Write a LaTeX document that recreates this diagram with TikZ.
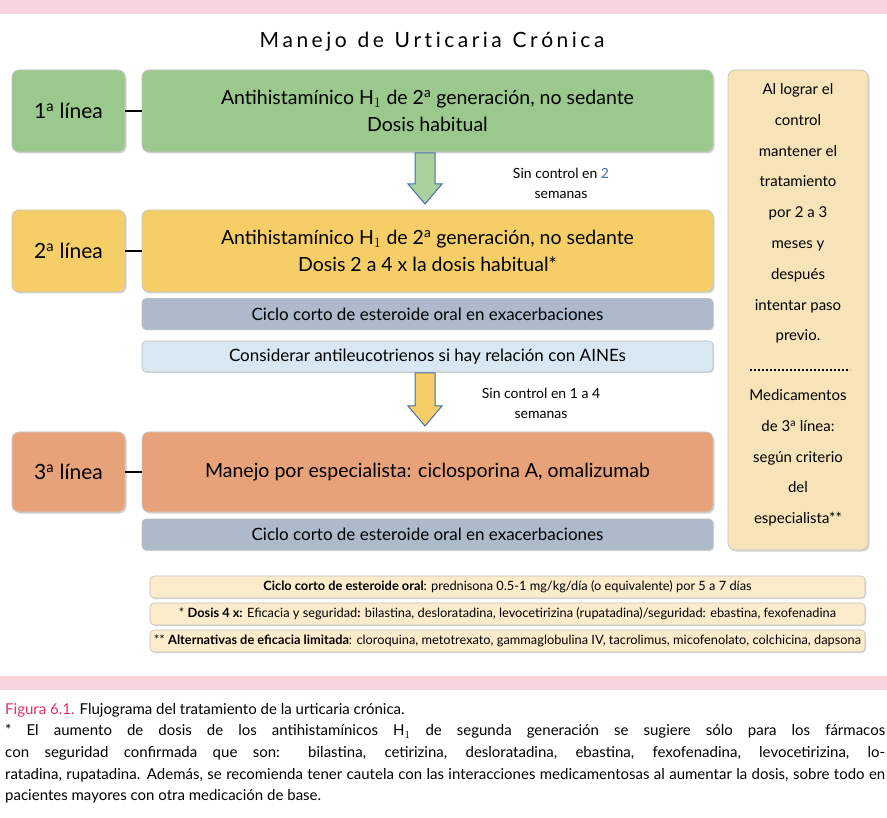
\documentclass[tikz,border=0pt]{standalone}
\usepackage{fontspec}
\setmainfont{Lato}
\usetikzlibrary{shadows}
\definecolor{pinkb}{RGB}{248,212,220}
\definecolor{gr}{RGB}{155,200,140}
\definecolor{ye}{RGB}{246,206,104}
\definecolor{orr}{RGB}{232,162,122}
\definecolor{gb}{RGB}{172,186,204}
\definecolor{lb}{RGB}{216,232,242}
\definecolor{tan}{RGB}{246,228,184}
\definecolor{fn}{RGB}{253,236,204}
\definecolor{capc}{RGB}{222,50,100}
\definecolor{blueo}{RGB}{70,110,170}
\tikzset{
 bx/.style={draw=gray!45,line width=0.8pt,rounded corners=7pt,inner sep=0pt,align=center,
   drop shadow={shadow xshift=1.5pt,shadow yshift=-1.5pt,opacity=0.35}},
 bar/.style={draw=gray!50,line width=0.6pt,rounded corners=4pt,inner sep=0pt,align=center,
   drop shadow={shadow xshift=1pt,shadow yshift=-1pt,opacity=0.3}},
 lab/.style={bx,minimum width=113pt,font=\fontsize{21}{24}\selectfont},
 main/.style={bx,minimum width=571pt,font=\fontsize{19.5}{27}\selectfont},
 barf/.style={bar,minimum width=571pt,minimum height=31pt,font=\fontsize{17}{20}\selectfont},
 side/.style={align=center,anchor=north,font=\fontsize{15}{30.8}\selectfont},
 note/.style={align=center,font=\fontsize{14}{20}\selectfont},
 arr/.style={draw=blueo,line width=1pt,line join=miter},
}
\newcommand{\sa}{\textsuperscript{a}}
\newcommand{\dnarrow}[3]{% fill, ytop, ybottom
 \draw[arr,fill=#1] (415,#2) -- (435,#2) -- (435,#3-20) -- (442,#3-20) -- (425,#3) -- (408,#3-20) -- (415,#3-20) -- cycle;}
\begin{document}
\begin{tikzpicture}[x=1pt,y=-1pt]
\useasboundingbox (0,0) rectangle (887,818);
\fill[pinkb] (0,0) rectangle (887,14);
\fill[pinkb] (0,676) rectangle (887,690);
\node (title) at (432,42) {\fontsize{21}{24}\selectfont M\,a\,n\,e\,j\,o\ \ d\,e\ \ U\,r\,t\,i\,c\,a\,r\,i\,a\ \ C\,r\,ó\,n\,i\,c\,a};
% line 1
\node[lab,fill=gr,minimum height=82pt] (l1) at (68.5,111) {1\sa{} línea};
\node[main,fill=gr,minimum height=82pt] (m1) at (427.5,111) {Antihistamínico H$_1$ de 2\sa{} generación, no sedante\\Dosis habitual};
\draw[line width=2pt] (l1) -- (m1);
\dnarrow{gr!85!white}{153}{204}
\node[note] (t1) at (561,183) {Sin control en \textcolor{blueo}{2}\\semanas};
% line 2
\node[lab,fill=ye,minimum height=82pt] (l2) at (68.5,251) {2\sa{} línea};
\node[main,fill=ye,minimum height=82pt] (m2) at (427.5,251) {Antihistamínico H$_1$ de 2\sa{} generación, no sedante\\Dosis 2 a 4 x la dosis habitual*};
\draw[line width=2pt] (l2) -- (m2);
\node[barf,fill=gb] (b1) at (427.5,314) {Ciclo corto de esteroide oral en exacerbaciones};
\node[barf,fill=lb] (b2) at (427.5,356.5) {Considerar antileucotrienos si hay relación con AINEs};
\dnarrow{ye}{373}{426}
\node[note] (t2) at (541,403) {Sin control en 1 a 4\\semanas};
% line 3
\node[lab,fill=orr,minimum height=80pt] (l3) at (68.5,472) {3\sa{} línea};
\node[main,fill=orr,minimum height=80pt] (m3) at (427.5,472) {Manejo por especialista: ciclosporina A, omalizumab};
\draw[line width=2pt] (l3) -- (m3);
\node[barf,fill=gb] (b3) at (427.5,534.5) {Ciclo corto de esteroide oral en exacerbaciones};
% right
\node[bx,fill=tan,minimum width=140pt,minimum height=480pt] (r) at (798,310) {};
\node[side] (rt1) at (798,80) {Al lograr el\\control\\mantener el\\tratamiento\\por 2 a 3\\meses y\\después\\intentar paso\\previo.};
\draw[line width=2pt,dotted] (750,370) -- (850,370);
\node[side] (rt2) at (798,386) {Medicamentos\\de 3\sa{} línea:\\según criterio\\del\\especialista**};
% footnotes
\tikzset{fnb/.style={bar,fill=fn,minimum width=715pt,minimum height=22pt,font=\fontsize{12.8}{14}\selectfont}}
\node[fnb] (f1) at (507.5,587) {\textbf{Ciclo corto de esteroide oral}: prednisona 0.5-1 mg/kg/día (o equivalente) por 5 a 7 días};
\node[fnb] (f2) at (507.5,614) {* \textbf{Dosis 4 x:} Eficacia y seguridad\textbf{:} bilastina, desloratadina, levocetirizina (rupatadina)/seguridad: ebastina, fexofenadina};
\node[fnb] (f3) at (507.5,641) {** \textbf{Alternativas de eficacia limitada}: cloroquina, metotrexato, gammaglobulina IV, tacrolimus, micofenolato, colchicina, dapsona};
% caption
\node[anchor=north west,text width=880pt,align=justify,inner sep=0pt,font=\fontsize{15}{21.6}\selectfont] (cap) at (5,703) {\textcolor{capc}{Figura 6.1.} Flujograma del tratamiento de la urticaria crónica.\par
{*} El aumento de dosis de los antihistamínicos H$_1$ de segunda generación se sugiere sólo para los fármacos con seguridad confirmada que son: bilastina, cetirizina, desloratadina, ebastina, fexofenadina, levocetirizina, lo-\linebreak ratadina, rupatadina. Además, se recomienda tener cautela con las interacciones medicamentosas al aumentar la dosis, sobre todo en pacientes mayores con otra medicación de base.};
\end{tikzpicture}
\end{document}
